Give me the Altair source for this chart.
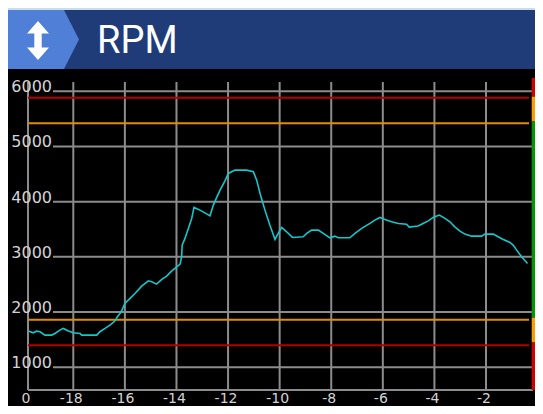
import altair as alt
import pandas as pd

# ---- data ----
time_s = [-19.74, -19.55, -19.42, -19.29, -19.10, -18.84, -18.71, -18.52, -18.39, -18.19,
          -18.00, -17.74, -17.67, -17.09, -16.97, -16.77, -16.58, -16.38, -16.29, -16.19,
          -16.10, -16.00, -15.80, -15.61, -15.35, -15.09, -14.96, -14.77, -14.57, -14.38,
          -14.19, -13.99, -13.86, -13.80, -13.78, -13.67, -13.54, -13.41, -13.32, -13.09,
          -12.90, -12.70, -12.57, -12.44, -12.31, -12.12, -11.99, -11.73, -11.28, -11.02,
          -10.89, -10.76, -10.57, -10.38, -10.18, -10.09, -9.92, -9.73, -9.50, -9.09,
          -8.95, -8.76, -8.50, -8.31, -8.05, -7.86, -7.73, -7.28, -7.08, -6.82,
          -6.50, -6.31, -6.11, -5.92, -5.66, -5.40, -5.08, -4.98, -4.63, -4.44,
          -4.24, -4.05, -3.81, -3.59, -3.40, -3.21, -3.01, -2.82, -2.56, -2.17,
          -2.04, -1.72, -1.53, -1.33, -1.07, -0.95, -0.81, -0.62, -0.39]
rpm = [1656, 1625, 1656, 1645, 1584, 1584, 1614, 1674, 1705, 1660,
       1625, 1614, 1584, 1584, 1645, 1705, 1765, 1843, 1915, 1976,
       2049, 2157, 2248, 2338, 2470, 2567, 2549, 2507, 2592, 2651,
       2742, 2820, 2869, 3001, 3213, 3334, 3515, 3696, 3895, 3846,
       3797, 3743, 3937, 4076, 4208, 4376, 4510, 4570, 4570, 4540,
       4389, 4148, 3846, 3575, 3316, 3400, 3533, 3454, 3352, 3364,
       3424, 3484, 3484, 3424, 3345, 3375, 3345, 3345, 3424, 3515,
       3605, 3665, 3714, 3677, 3635, 3605, 3590, 3540, 3560, 3605,
       3652, 3714, 3756, 3696, 3635, 3544, 3466, 3412, 3375, 3375,
       3412, 3412, 3364, 3316, 3262, 3213, 3122, 3001, 2881]

y_ticks = [1000, 2000, 3000, 4000, 5000, 6000]
y_tick_labels = ["1000", "2000", "3000", "4000", "5000", "6000"]
x_grid = [-19.756, -18, -16, -14, -12, -10, -8, -6, -4, -2]
x_tick_labels = ["0", "-18", "-16", "-14", "-12", "-10", "-8", "-6", "-4", "-2"]

limit_values = [5880, 5420, 1860, 1400]
limit_colors = ["#b40000", "#e38c00", "#e38c00", "#b40000"]

band_lo = [5900, 5450, 1900, 1450, 590]
band_hi = [6238, 5900, 5450, 1900, 1450]
band_colors = ["#d40000", "#ff9c00", "#009a00", "#ff9c00", "#d40000"]

title_text = "RPM"

XD = [-19.756, -0.178]
YD = [590, 6238]
xs = alt.Scale(domain=XD, nice=False, zero=False)
ys = alt.Scale(domain=YD, nice=False, zero=False)

one = pd.DataFrame({"a": [0]})
line_df = pd.DataFrame({"t": time_s, "rpm": rpm})
ytick_df = pd.DataFrame({"v": y_ticks, "lab": y_tick_labels})
xtick_df = pd.DataFrame({"t": x_grid, "lab": x_tick_labels})
limit_df = pd.DataFrame({"v": limit_values, "c": limit_colors})
band_df = pd.DataFrame({"lo": band_lo, "hi": band_hi, "c": band_colors})

GRID = "#8c8c8c"
W, H = 505, 312
RIGHT = 507  # right edge of the canvas, in plot coordinates

bg = alt.Chart(one).mark_rect(color="black").encode(
    x=alt.value(-21), x2=alt.value(RIGHT), y=alt.value(-9), y2=alt.value(330))
header = alt.Chart(one).mark_rect(color="#1f3b78").encode(
    x=alt.value(-21), x2=alt.value(RIGHT), y=alt.value(-68), y2=alt.value(-9))
chevron = alt.Chart(one).mark_point(
    shape="M -1 -0.819 L 0.583 -0.819 L 1 0 L 0.583 0.819 L -1 0.819 Z",
    size=5184, filled=True, color="#4f7fd6", opacity=1, strokeWidth=0
).encode(x=alt.value(15), y=alt.value(-38.5))
arrow = alt.Chart(one).mark_point(
    shape="M 0 -1 L 0.564 -0.36 L 0.19 -0.36 L 0.19 0.36 L 0.564 0.36 L 0 1 L -0.564 0.36 L -0.19 0.36 L -0.19 -0.36 L -0.564 -0.36 Z",
    size=1521, filled=True, color="white", opacity=1, strokeWidth=0
).encode(x=alt.value(10), y=alt.value(-37.5))
title = alt.Chart(one).mark_text(
    text=title_text, font="Roboto", fontSize=38, color="white", align="left", baseline="alphabetic"
).encode(x=alt.value(69), y=alt.value(-25))

hgrid = alt.Chart(ytick_df).mark_rule(color=GRID, strokeWidth=2).encode(
    y=alt.Y("v:Q", scale=ys, axis=None), x=alt.value(25), x2=alt.value(RIGHT))
vgrid = alt.Chart(xtick_df).mark_rule(color=GRID, strokeWidth=2).encode(
    x=alt.X("t:Q", scale=xs, axis=None), y=alt.value(4), y2=alt.value(H))
xaxis = alt.Chart(one).mark_rule(color=GRID, strokeWidth=2).encode(
    x=alt.value(0), x2=alt.value(W), y=alt.value(H))

limits = alt.Chart(limit_df).mark_rule(strokeWidth=2).encode(
    y=alt.Y("v:Q", scale=ys, axis=None), x=alt.value(0), x2=alt.value(501),
    color=alt.Color("c:N", scale=None))
bands = alt.Chart(band_df).mark_rect().encode(
    y=alt.Y("lo:Q", scale=ys, axis=None), y2="hi:Q",
    x=alt.value(503.7), x2=alt.value(RIGHT), color=alt.Color("c:N", scale=None))

ylabels = alt.Chart(ytick_df).mark_text(
    align="right", baseline="alphabetic", font="DejaVu Sans", fontSize=16, color="#d4d4d4", dy=1
).encode(y=alt.Y("v:Q", scale=ys, axis=None), x=alt.value(24), text="lab:N")
xlabels = alt.Chart(xtick_df).mark_text(
    align="center", baseline="alphabetic", font="DejaVu Sans", fontSize=14, color="#d4d4d4", dx=-2
).encode(x=alt.X("t:Q", scale=xs, axis=None), y=alt.value(324.5), text="lab:N")

line = alt.Chart(line_df).mark_line(color="#12c8cc", strokeWidth=1.6).encode(
    x=alt.X("t:Q", scale=xs, axis=None), y=alt.Y("rpm:Q", scale=ys, axis=None))

chart = alt.layer(
    bg, header, chevron, arrow, title, hgrid, vgrid, xaxis, limits, bands, ylabels, xlabels, line
).properties(
    width=W, height=H,
    autosize=alt.AutoSizeParams(type="none"),
    padding={"left": 20, "top": 70, "right": 2, "bottom": 16},
    background="#cbdcea",
).configure_view(stroke=None)

chart.save("out.html", embed_options={"renderer": "svg", "actions": False})
